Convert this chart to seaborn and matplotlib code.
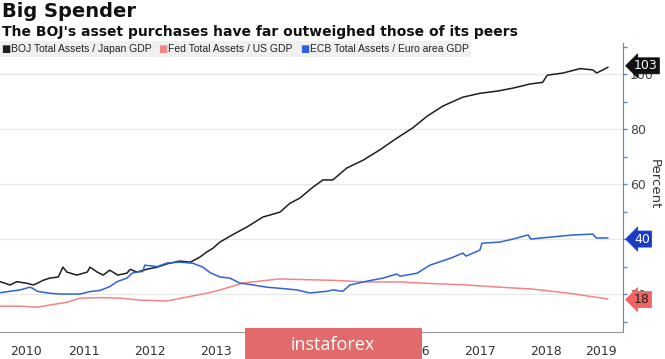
import numpy as np
import pandas as pd
import seaborn as sns
import matplotlib.pyplot as plt
from matplotlib.patches import Rectangle
from matplotlib.transforms import blended_transform_factory

# data (decimal years, percent of GDP)
boj_year = [2010.23, 2010.38, 2010.48, 2010.64, 2010.73, 2010.79, 2010.88, 2010.98, 2011.11, 2011.18,
            2011.24, 2011.39, 2011.55, 2011.59, 2011.70, 2011.79, 2011.89, 2012.01, 2012.15, 2012.20,
            2012.30, 2012.45, 2012.61, 2012.76, 2012.95, 2013.11, 2013.26, 2013.36, 2013.45, 2013.56,
            2013.71, 2013.86, 2013.97, 2014.21, 2014.47, 2014.62, 2014.77, 2014.97, 2015.12, 2015.27,
            2015.48, 2015.73, 2015.98, 2016.24, 2016.48, 2016.70, 2016.94, 2017.24, 2017.50, 2017.76,
            2018.00, 2018.26, 2018.45, 2018.52, 2018.76, 2019.02, 2019.21, 2019.27, 2019.44]
boj_val = [24.5, 23.3, 24.5, 23.9, 23.3, 23.9, 25.0, 25.8, 26.2, 29.8,
           28.0, 26.9, 28.0, 29.8, 28.0, 26.9, 28.7, 26.9, 27.6, 29.0,
           28.0, 29.0, 29.8, 31.0, 32.0, 31.6, 33.5, 35.3, 36.6, 38.9,
           41.0, 43.0, 44.4, 48.0, 49.8, 53.0, 54.9, 58.9, 61.5, 61.5,
           65.8, 68.7, 72.4, 76.7, 80.4, 84.7, 88.4, 91.6, 93.0, 93.8,
           94.9, 96.4, 97.0, 99.6, 100.4, 102.0, 101.5, 100.4, 102.5]

fed_year = [2010.23, 2010.53, 2010.79, 2010.98, 2011.24, 2011.44, 2011.74, 2012.05, 2012.35, 2012.76,
            2013.06, 2013.36, 2013.56, 2013.91, 2014.27, 2014.47, 2014.77, 2015.27, 2015.79, 2016.29,
            2016.79, 2017.30, 2017.80, 2018.30, 2018.82, 2019.44]
fed_val = [15.6, 15.6, 15.2, 16.0, 17.0, 18.5, 18.7, 18.5, 17.8, 17.5,
           18.9, 20.3, 21.5, 24.0, 25.0, 25.5, 25.3, 25.0, 24.4, 24.4,
           23.8, 23.3, 22.5, 21.8, 20.4, 18.2]

ecb_year = [2010.23, 2010.53, 2010.68, 2010.73, 2010.79, 2010.98, 2011.14, 2011.44, 2011.59, 2011.74,
            2011.89, 2012.00, 2012.15, 2012.23, 2012.30, 2012.39, 2012.42, 2012.61, 2012.76, 2012.95,
            2013.15, 2013.30, 2013.41, 2013.56, 2013.71, 2013.86, 2014.01, 2014.27, 2014.51, 2014.73,
            2014.92, 2015.18, 2015.27, 2015.42, 2015.53, 2015.79, 2016.03, 2016.24, 2016.29, 2016.55,
            2016.74, 2017.05, 2017.24, 2017.29, 2017.50, 2017.53, 2017.80, 2018.00, 2018.23, 2018.27,
            2018.56, 2018.91, 2019.21, 2019.26, 2019.44]
ecb_val = [20.5, 21.5, 22.5, 22.0, 21.0, 20.3, 20.0, 20.0, 20.9, 21.3,
           22.7, 24.5, 25.8, 27.6, 28.0, 28.2, 30.5, 30.0, 31.3, 31.6,
           31.2, 29.8, 27.8, 26.2, 25.8, 24.0, 23.5, 22.5, 22.0, 21.5,
           20.4, 21.0, 21.5, 21.0, 23.3, 24.7, 25.8, 27.3, 26.5, 27.6,
           30.5, 33.0, 34.9, 33.8, 36.0, 38.5, 38.9, 40.0, 41.5, 40.0,
           40.7, 41.5, 41.8, 40.4, 40.4]

series_names = ['BOJ Total Assets / Japan GDP', 'Fed Total Assets / US GDP', 'ECB Total Assets / Euro area GDP']
series_colors = ['#1e1e1e', '#f38585', '#2f62d6']
tag_colors = ['#111111', '#f26464', '#1a3cc4']
last_values = ['103', '18', '40']
years = list(range(2010, 2020))

df = pd.concat([
    pd.DataFrame({'year': boj_year, 'pct': boj_val, 'series': series_names[0]}),
    pd.DataFrame({'year': fed_year, 'pct': fed_val, 'series': series_names[1]}),
    pd.DataFrame({'year': ecb_year, 'pct': ecb_val, 'series': series_names[2]}),
])

sns.set_style('white')
fig = plt.figure(figsize=(6.65, 3.59), dpi=100)
ax = fig.add_axes([0, 0.0752, 0.9368, 0.805])

sns.lineplot(data=df, x='year', y='pct', hue='series', palette=dict(zip(series_names, series_colors)),
             linewidth=1.1, legend=False, ax=ax, zorder=3)

xmin, xmax = 2010.227, 2019.667
ax.set_xlim(xmin, xmax)
ax.set_ylim(6.2, 111.3)

# right hand percent axis
ax.yaxis.tick_right()
ax.yaxis.set_label_position('right')
ax.set_yticks([20, 40, 60, 80, 100])
ax.set_yticks([10, 30, 50, 70, 90, 110], minor=True)
ax.tick_params(axis='y', which='both', colors='#5b87d9', labelcolor='#444444', labelsize=9,
               length=3, width=1, pad=2)
ax.set_ylabel('Percent', rotation=270, fontsize=9.5, color='#333333', va='center')
ax.yaxis.set_label_coords(1.051, 0.51)
ax.yaxis.grid(True, color='#e8e8e8', linewidth=0.9)
ax.set_axisbelow(True)

for s in ['top', 'left']:
    ax.spines[s].set_visible(False)
ax.spines['right'].set_color('#5b87d9')
ax.spines['bottom'].set_color('#999999')
ax.spines['bottom'].set_linewidth(0.8)

# year dividers and quarter ticks
ax.set_xticks(years[1:])
ax.set_xticks([y + q for y in years for q in (0.25, 0.5, 0.75) if xmin < y + q < xmax], minor=True)
ax.tick_params(axis='x', which='major', direction='out', length=19.5, color='#aaaaaa', width=0.8, labelbottom=False)
ax.tick_params(axis='x', which='minor', direction='inout', length=4, color='#999999', width=0.8)
ax.set_xlabel('')

trans = blended_transform_factory(ax.transData, fig.transFigure)
for y in years:
    a, b = max(y, xmin), min(y + 1, xmax)
    ax.text((a + b) / 2, 0.02, str(y), transform=trans, ha='center', va='center',
            fontsize=9, color='#333333', clip_on=False)

# value tags at the right edge
for val, col in zip(last_values, tag_colors):
    ax.annotate(val, xy=(1.0, float(val)), xycoords=('axes fraction', 'data'),
                xytext=(8, 0), textcoords='offset points', ha='left', va='center',
                fontsize=9, color='white' if col != '#f26464' else '#222222',
                bbox=dict(boxstyle='larrow,pad=0.12', fc=col, ec=col, lw=0.6),
                annotation_clip=False, zorder=10)

# titles
fig.text(0.003, 0.995, 'Big Spender', fontsize=14, weight='bold', va='top', color='#111111')
fig.text(0.003, 0.930, "The BOJ's asset purchases have far outweighed those of its peers",
         fontsize=10, weight='bold', va='top', color='#111111')

# legend strip
fig.patches.append(Rectangle((0, 1 - 57 / 359), 471 / 665, 16 / 359, transform=fig.transFigure,
                             facecolor='#f0f0f0', edgecolor='none', zorder=1))
leg_x = [6, 163, 305]
leg_font = ['Liberation Sans', 'DejaVu Sans']
for lx, name, col in zip(leg_x, series_names, series_colors):
    fig.text(lx / 665, 1 - 49 / 359, '\u25a0', color=col, fontsize=7, ha='center', va='center', zorder=2)
    fig.text((lx + 5) / 665, 1 - 49 / 359, name, color='#222222', fontsize=7.5, ha='left', va='center',
             family=leg_font, zorder=2)

# watermark box
fig.patches.append(Rectangle((245 / 665, 0), 177 / 665, 31 / 359, transform=fig.transFigure,
                             facecolor='#e26a6a', edgecolor='none', zorder=5))
fig.text(333 / 665, 14 / 359, 'instaforex', color='white', fontsize=13, ha='center', va='center',
         family=['Open Sans', 'DejaVu Sans'], zorder=6)

fig.savefig('out.png', dpi=100)
